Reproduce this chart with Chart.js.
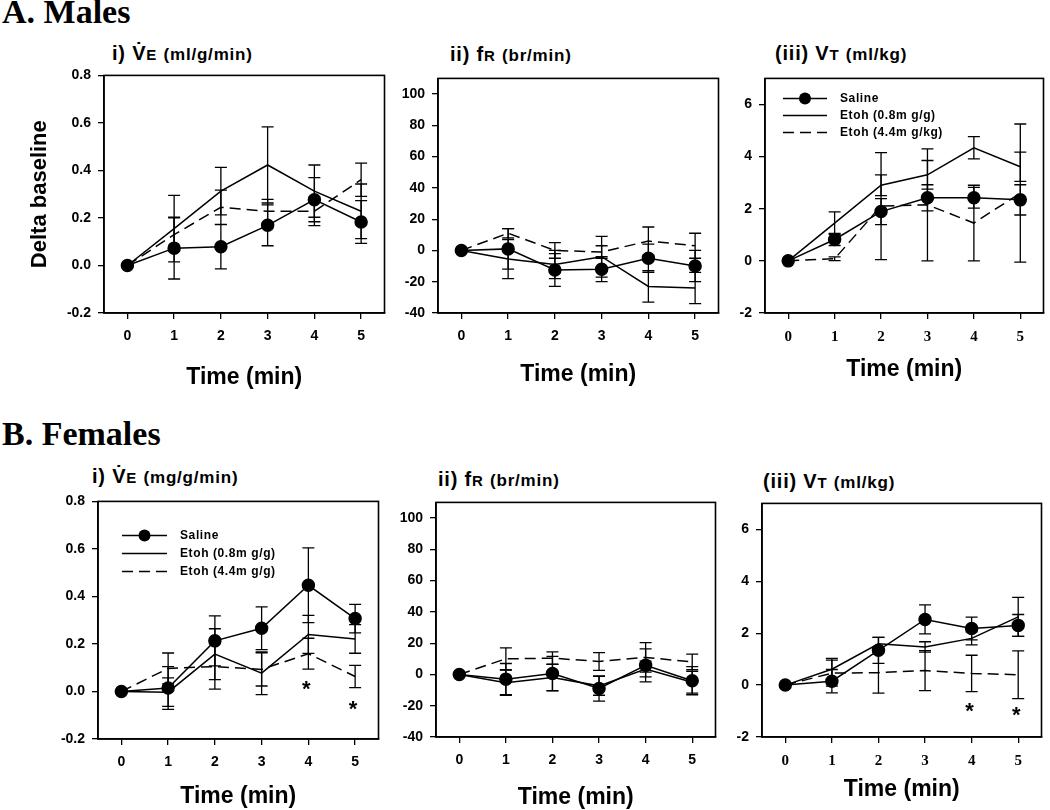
<!DOCTYPE html>
<html>
<head>
<meta charset="utf-8">
<title>Delta baseline - males and females</title>
<script src="https://cdn.jsdelivr.net/npm/chart.js@4.4.1/dist/chart.umd.min.js"></script>
<style>
  body { margin: 0; background: #fff; }
  #page { position: relative; width: 1050px; height: 810px; overflow: hidden; background: #fff; color: #000; }
  .panel { position: absolute; }
  .head { position: absolute; font-family: "Liberation Serif", "Times New Roman", serif; font-weight: bold; font-size: 34px; line-height: 36px; white-space: nowrap; }
  .ttl { position: absolute; font-family: "Liberation Sans", Arial, sans-serif; font-weight: bold; font-size: 20px; line-height: 22px; letter-spacing: 0.8px; white-space: nowrap; }
  .ttl .sub { font-size: 15px; }
  .ttl .unit { font-size: 17px; }
</style>
</head>
<body>
<div id="page">
  <div class="head" style="left:2px;top:-6px">A. Males</div>
  <div class="head" style="left:2px;top:416px">B. Females</div>

  <div class="ttl" style="left:112px;top:42px">i) V̇<span class="sub">E</span> <span class="unit">(ml/g/min)</span></div>
  <div class="ttl" style="left:450px;top:43px">ii) f<span class="sub">R</span> <span class="unit">(br/min)</span></div>
  <div class="ttl" style="left:775px;top:42px">(iii) V<span class="sub">T</span> <span class="unit">(ml/kg)</span></div>

  <div class="ttl" style="left:92px;top:465px">i) V̇<span class="sub">E</span> <span class="unit">(mg/g/min)</span></div>
  <div class="ttl" style="left:438px;top:468px">ii) f<span class="sub">R</span> <span class="unit">(br/min)</span></div>
  <div class="ttl" style="left:763px;top:470px">(iii) V<span class="sub">T</span> <span class="unit">(ml/kg)</span></div>
</div>

<script>
// ---- data ----
const times = [0, 1, 2, 3, 4, 5];
const xTickValues = [0, 1, 2, 3, 4, 5];
const veTickValues = [-0.2, 0, 0.2, 0.4, 0.6, 0.8];
const frTickValues = [-40, -20, 0, 20, 40, 60, 80, 100];
const vtTickValues = [-2, 0, 2, 4, 6];

const labelsMales = ["Saline", "Etoh (0.8m g/g)", "Etoh (4.4m g/kg)"];
const labelsFemales = ["Saline", "Etoh (0.8m g/g)", "Etoh (4.4m g/g)"];

// A. Males - VE
const mVeSaline = [0, 0.073, 0.079, 0.169, 0.277, 0.183];
const mVeSalineErr = [0, 0.13, 0.093, 0.086, 0.093, 0.09];
const mVeLow = [0, 0.155, 0.313, 0.423, 0.313, 0.228];
const mVeLowErr = [0, 0.14, 0.1, 0.16, 0.11, 0.115];
const mVeHigh = [0, 0.13, 0.245, 0.228, 0.228, 0.361];
const mVeHighErr = [0, 0.07, 0.072, 0.05, 0.06, 0.07];

// A. Males - fR
const mFrSaline = [0, 1, -12.5, -12, -5, -10];
const mFrSalineErr = [0, 13, 10.5, 8, 9, 10];
const mFrLow = [0, -5.5, -9, -4, -23, -24];
const mFrLowErr = [0, 12.5, 9, 13, 10, 10];
const mFrHigh = [0, 11, 0, -1, 6, 3];
const mFrHighErr = [0, 3, 5, 4, 9, 8];

// A. Males - VT
const mVtSaline = [0, 0.82, 1.89, 2.42, 2.42, 2.34];
const mVtSalineErr = [0, 0.23, 0.5, 0.5, 0.4, 0.58];
const mVtLow = [0, 1.45, 2.9, 3.3, 4.34, 3.61];
const mVtLowErr = [0, 0.43, 0.4, 0.55, 0.43, 0.56];
const mVtHigh = [0, 0.08, 2.1, 2.15, 1.45, 2.6];
const mVtHighErr = [0, 0.07, 2.05, 2.15, 1.45, 2.65];

// B. Females - VE
const fVeSaline = [0, 0.015, 0.213, 0.266, 0.447, 0.307];
const fVeSalineErr = [0, 0.09, 0.105, 0.09, 0.157, 0.06];
const fVeLow = [0, -0.003, 0.157, 0.077, 0.24, 0.221];
const fVeLowErr = [0, 0.06, 0.107, 0.09, 0.08, 0.06];
const fVeHigh = [0, 0.097, 0.105, 0.093, 0.159, 0.063];
const fVeHighErr = [0, 0.065, 0.095, 0.07, 0.065, 0.047];

// B. Females - fR
const fFrSaline = [0, -3, 0.6, -9, 5.8, -4];
const fFrSalineErr = [0, 10, 11, 8, 10.5, 9];
const fFrLow = [0, -5.3, -2, -7.3, 3.5, -5];
const fFrLowErr = [0, 8, 8.5, 6, 5, 7];
const fFrHigh = [0, 10, 10.4, 8.3, 10.9, 8];
const fFrHighErr = [0, 7, 4, 5.7, 9.4, 5];

// B. Females - VT
const fVtSaline = [0, 0.15, 1.34, 2.53, 2.18, 2.3];
const fVtSalineErr = [0, 0.45, 0.5, 0.56, 0.44, 0.42];
const fVtLow = [0, 0.61, 1.59, 1.47, 1.8, 2.63];
const fVtLowErr = [0, 0.42, 0.25, 0.2, 0.25, 0.75];
const fVtHigh = [0, 0.46, 0.48, 0.56, 0.45, 0.4];
const fVtHighErr = [0, 0.5, 0.79, 0.77, 0.7, 0.92];

// significance marks (*)
const fVeStarTimes = [4, 5];
const fVeStarLevels = [0.035, -0.05];
const fVtStarTimes = [4, 5];
const fVtStarLevels = [-0.8, -0.95];

// ---- drawing ----
const SANS = '"Liberation Sans", Arial, sans-serif';
const SERIF = '"Liberation Serif", "Times New Roman", serif';

const extrasById = {};

const panelExtras = {
    id: 'panelExtras',
    beforeDatasetsDraw(chart) {
        const ctx = chart.ctx;
        const xs = chart.scales.x, ys = chart.scales.y;
        ctx.save();
        ctx.strokeStyle = '#000';
        ctx.lineWidth = 1.3;
        ctx.setLineDash([]);
        chart.data.datasets.forEach(ds => {
            ds.data.forEach((p, i) => {
                const e = ds.errs[i];
                if (!e) return;
                const x = xs.getPixelForValue(p.x);
                const y1 = ys.getPixelForValue(p.y + e);
                const y2 = ys.getPixelForValue(p.y - e);
                ctx.beginPath();
                ctx.moveTo(x, y1); ctx.lineTo(x, y2);
                ctx.moveTo(x - 6, y1); ctx.lineTo(x + 6, y1);
                ctx.moveTo(x - 6, y2); ctx.lineTo(x + 6, y2);
                ctx.stroke();
            });
        });
        ctx.restore();
    },
    afterDatasetsDraw(chart) {
        const ctx = chart.ctx, a = chart.chartArea;
        const xs = chart.scales.x, ys = chart.scales.y;
        const ex = extrasById[chart.canvas.id] || {};
        ctx.save();
        ctx.strokeStyle = '#000';
        ctx.fillStyle = '#000';
        ctx.setLineDash([]);
        ctx.lineWidth = 1.6;
        ctx.strokeRect(a.left, a.top, a.width, a.height);

        if (ex.starTimes) {
            ctx.font = 'bold 22px ' + SANS;
            ctx.textAlign = 'center';
            ctx.textBaseline = 'alphabetic';
            ex.starTimes.forEach((t, i) => {
                const x = xs.getPixelForValue(t);
                const y = ys.getPixelForValue(ex.starLevels[i]);
                ctx.fillText('*', x - 2, y + 12.5);
            });
        }

        if (ex.legend) {
            const lg = ex.legend;
            ctx.font = 'bold 12px ' + SANS;
            ctx.letterSpacing = '0.6px';
            ctx.textAlign = 'left';
            ctx.textBaseline = 'middle';
            chart.data.datasets.forEach((ds, k) => {
                const y = a.top + lg.top + k * lg.gap;
                ctx.lineWidth = 1.5;
                ctx.setLineDash(ds.borderDash || []);
                ctx.beginPath();
                ctx.moveTo(a.left + lg.x0, y);
                ctx.lineTo(a.left + lg.x1, y);
                ctx.stroke();
                ctx.setLineDash([]);
                if (ds.pointRadius) {
                    ctx.beginPath();
                    ctx.arc(a.left + (lg.x0 + lg.x1) / 2, y, ds.pointRadius, 0, Math.PI * 2);
                    ctx.fill();
                }
                ctx.fillText(ds.label, a.left + lg.tx, y);
            });
        }
        ctx.restore();
    }
};

function makeDatasets(labels, values, errors) {
    const dash = [[], [], [11, 6]];
    const radius = [6, 0, 0];
    return labels.map((lab, k) => ({
        label: lab,
        data: times.map((t, i) => ({ x: t, y: values[k][i] })),
        errs: errors[k],
        borderColor: '#000',
        backgroundColor: '#000',
        pointBackgroundColor: '#000',
        pointBorderColor: '#000',
        borderWidth: 1.5,
        borderDash: dash[k],
        pointRadius: radius[k],
        pointHoverRadius: radius[k],
        tension: 0
    }));
}

const panelDefs = [
    { id: 'mVe', L: 104, T: 70, R: 388, B: 313, xH: 78, yW: 77, yMin: -0.2, yMax: 0.8, yTicks: veTickValues, dec: 1,
      labels: labelsMales, values: [mVeSaline, mVeLow, mVeHigh], errors: [mVeSalineErr, mVeLowErr, mVeHighErr],
      serifX: false, yTitle: 'Delta baseline' },
    { id: 'mFr', L: 438, T: 73, R: 722, B: 313, xH: 75, yW: 60, yMin: -40, yMax: 110, yTicks: frTickValues, dec: 0,
      labels: labelsMales, values: [mFrSaline, mFrLow, mFrHigh], errors: [mFrSalineErr, mFrLowErr, mFrHighErr],
      serifX: false },
    { id: 'mVt', L: 765, T: 73, R: 1047, B: 313, xH: 70, yW: 60, yMin: -2, yMax: 7, yTicks: vtTickValues, dec: 0,
      labels: labelsMales, values: [mVtSaline, mVtLow, mVtHigh], errors: [mVtSalineErr, mVtLowErr, mVtHighErr],
      serifX: true, legend: { x0: 18, x1: 62, tx: 75, top: 20, gap: 17 } },
    { id: 'fVe', L: 98, T: 496, R: 382, B: 739, xH: 71, yW: 60, yMin: -0.2, yMax: 0.8, yTicks: veTickValues, dec: 1,
      labels: labelsFemales, values: [fVeSaline, fVeLow, fVeHigh], errors: [fVeSalineErr, fVeLowErr, fVeHighErr],
      serifX: false, legend: { x0: 24, x1: 69, tx: 82, top: 34, gap: 18 },
      starTimes: fVeStarTimes, starLevels: fVeStarLevels },
    { id: 'fFr', L: 436, T: 497, R: 719, B: 737, xH: 74, yW: 60, yMin: -40, yMax: 110, yTicks: frTickValues, dec: 0,
      labels: labelsFemales, values: [fFrSaline, fFrLow, fFrHigh], errors: [fFrSalineErr, fFrLowErr, fFrHighErr],
      serifX: false },
    { id: 'fVt', L: 762, T: 498, R: 1045, B: 737, xH: 66, yW: 60, yMin: -2, yMax: 7, yTicks: vtTickValues, dec: 0,
      labels: labelsFemales, values: [fVtSaline, fVtLow, fVtHigh], errors: [fVtSalineErr, fVtLowErr, fVtHighErr],
      serifX: true, starTimes: fVtStarTimes, starLevels: fVtStarLevels }
];

function buildPanel(p) {
    const padTop = 10, padRight = 4;
    const width = p.yW + (p.R - p.L) + padRight;
    const height = padTop + (p.B - p.T) + p.xH;

    const wrap = document.createElement('div');
    wrap.className = 'panel';
    wrap.style.left = (p.L - p.yW) + 'px';
    wrap.style.top = (p.T - padTop) + 'px';
    const canvas = document.createElement('canvas');
    canvas.id = p.id;
    canvas.width = width;
    canvas.height = height;
    canvas.style.width = width + 'px';
    canvas.style.height = height + 'px';
    wrap.appendChild(canvas);
    document.getElementById('page').appendChild(wrap);

    extrasById[p.id] = { legend: p.legend, starTimes: p.starTimes, starLevels: p.starLevels };

    const tickGrid = { display: true, drawOnChartArea: false, drawTicks: true, tickLength: 6, color: '#000', lineWidth: 1.3 };

    return new Chart(canvas, {
        type: 'line',
        data: { datasets: makeDatasets(p.labels, p.values, p.errors) },
        options: {
            responsive: false,
            animation: false,
            devicePixelRatio: 1,
            layout: { padding: { top: padTop, right: padRight, left: 0, bottom: 0 } },
            plugins: { legend: { display: false }, tooltip: { enabled: false } },
            scales: {
                x: {
                    type: 'linear',
                    min: -0.5,
                    max: 5.5,
                    afterBuildTicks: s => { s.ticks = xTickValues.map(v => ({ value: v })); },
                    afterFit: s => { s.height = p.xH; },
                    grid: tickGrid,
                    border: { display: true, color: '#000', width: 1.6 },
                    ticks: {
                        color: '#000',
                        padding: 9,
                        maxRotation: 0,
                        font: p.serifX ? { family: SERIF, size: 15, weight: 'bold' } : { family: SANS, size: 14, weight: 'bold' },
                        callback: v => String(v)
                    },
                    title: {
                        display: true,
                        text: 'Time (min)',
                        color: '#000',
                        padding: { top: 0, bottom: 0 },
                        font: { family: SANS, size: 23, weight: 'bold' }
                    }
                },
                y: {
                    min: p.yMin,
                    max: p.yMax,
                    afterBuildTicks: s => { s.ticks = p.yTicks.map(v => ({ value: v })); },
                    afterFit: s => { s.width = p.yW; },
                    grid: tickGrid,
                    border: { display: true, color: '#000', width: 1.6 },
                    ticks: {
                        color: '#000',
                        padding: 7,
                        font: { family: SANS, size: 14, weight: 'bold' },
                        callback: v => Number(v).toFixed(p.dec)
                    },
                    title: {
                        display: !!p.yTitle,
                        text: p.yTitle || '',
                        color: '#000',
                        padding: { top: 0, bottom: 0 },
                        font: { family: SANS, size: 22, weight: 'bold' }
                    }
                }
            }
        },
        plugins: [panelExtras]
    });
}

panelDefs.forEach(buildPanel);
</script>
</body>
</html>
